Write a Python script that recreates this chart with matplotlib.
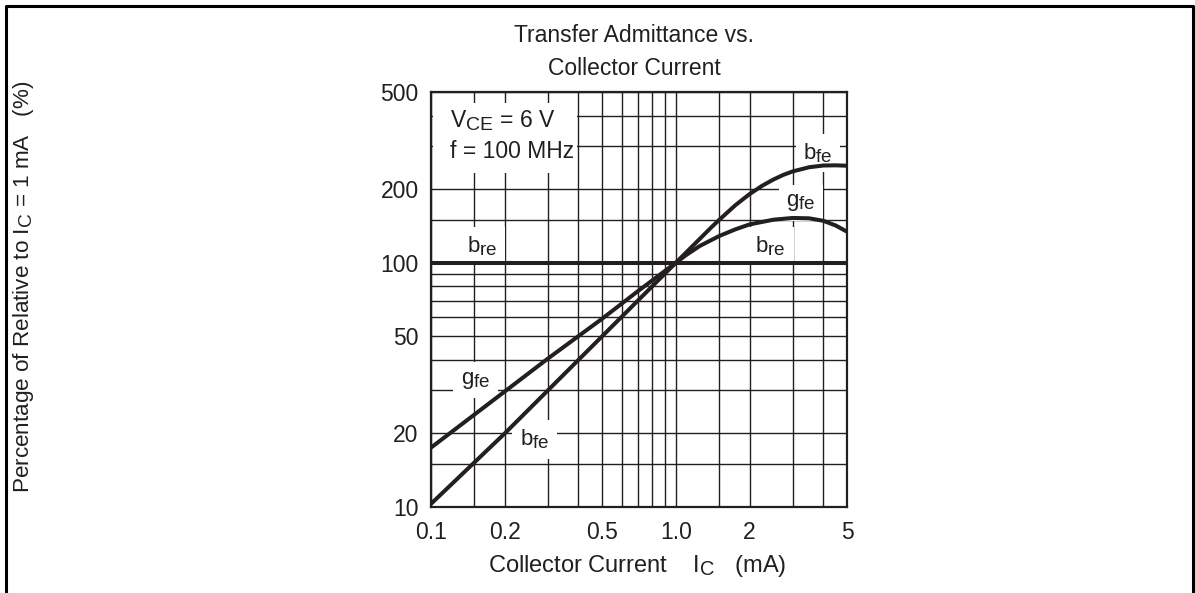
import matplotlib
matplotlib.use("Agg")
import matplotlib.pyplot as plt
import matplotlib._mathtext as mathtext_impl
from matplotlib.lines import Line2D
from matplotlib.patches import Rectangle

plt.rcParams["font.family"] = ["Liberation Sans", "DejaVu Sans"]
plt.rcParams["mathtext.fontset"] = "custom"
plt.rcParams["mathtext.rm"] = "Liberation Sans"
plt.rcParams["mathtext.it"] = "Liberation Sans"
plt.rcParams["mathtext.bf"] = "Liberation Sans:bold"
# datasheet style: subscripts only slightly smaller than the base letter
mathtext_impl.SHRINK_FACTOR = 0.85

INK = "#231f20"
W, H = 1195, 593

# collector current (mA) and relative admittance (%)
ic_bfe = [0.1, 0.2, 0.3, 0.5, 0.7, 1.0, 1.25, 1.4, 1.5, 1.75, 2.0, 2.25, 2.5, 2.75, 3.0, 3.5, 4.0, 4.5, 5.0]
bfe = [10.3, 20, 30, 50, 70, 100, 125, 140, 149.5, 172, 191, 206.5, 219, 229, 236.5, 246, 250, 250.5, 249.5]

ic_gfe = [0.1, 0.2, 0.3, 0.5, 0.7, 1.0, 1.1, 1.25, 1.5, 1.75, 2.0, 2.5, 3.0, 3.5, 4.0, 4.5, 5.0]
gfe = [17.5, 29.7, 40.5, 59, 76.5, 100, 107.4, 117, 128.5, 137, 143.5, 150, 152.5, 152, 148.5, 142, 134]

ic_bre = [0.1, 5.0]
bre = [100, 100]

x_major = [0.1, 0.2, 0.5, 1.0, 2, 5]
x_labels = ["0.1", "0.2", "0.5", "1.0", "2", "5"]
x_minor = [0.15, 0.3, 0.4, 0.6, 0.7, 0.8, 0.9, 1.5, 3, 4]
y_major = [10, 20, 50, 100, 200, 500]
y_minor = [15, 30, 40, 60, 70, 80, 90, 150, 300, 400]

fig = plt.figure(figsize=(W / 100, H / 100), dpi=100)
ax = fig.add_axes([431 / W, 86 / H, 416 / W, 415 / H])

ax.set_xscale("log")
ax.set_yscale("log")
ax.set_xlim(0.1, 5)
ax.set_ylim(10, 500)

ax.set_xticks(x_major)
ax.set_xticklabels(x_labels)
ax.set_xticks(x_minor, minor=True)
ax.set_xticklabels([], minor=True)
ax.set_yticks(y_major)
ax.set_yticklabels([str(v) for v in y_major])
ax.set_yticks(y_minor, minor=True)
ax.set_yticklabels([], minor=True)
ax.tick_params(which="both", length=0, labelsize=16.5, colors=INK)
ax.tick_params(axis="x", pad=10)
ax.tick_params(axis="y", pad=9)

ax.grid(which="both", color=INK, lw=1.0)
ax.set_axisbelow(True)
for sp in ax.spines.values():
    sp.set_linewidth(1.6)
    sp.set_color(INK)

curve = dict(color=INK, lw=2.9, solid_capstyle="butt", solid_joinstyle="round", zorder=3)
ax.plot(ic_bfe, bfe, **curve)
ax.plot(ic_gfe, gfe, **curve)
ax.plot(ic_bre, bre, **curve)

# white knock-outs sit over the grid but under the curves
box = dict(facecolor="white", edgecolor="none", pad=5.5)


def label(x, y, s):
    ax.text(x, y, s, ha="center", va="center", fontsize=16, color=INK,
            bbox=box, zorder=2.5)


label(3.8, 281, r"b$_\mathregular{fe}$")
label(3.24, 176, r"g$_\mathregular{fe}$")
label(2.44, 117, r"b$_\mathregular{re}$")
label(0.162, 117, r"b$_\mathregular{re}$")
label(0.152, 33, r"g$_\mathregular{fe}$")
label(0.265, 18.9, r"b$_\mathregular{fe}$")

# conditions block
ax.add_patch(Rectangle((0.005, 0.805), 0.346, 0.168, transform=ax.transAxes,
                       facecolor="white", edgecolor="none", zorder=2))
ax.text(450, H - 127, "V$_\\mathregular{CE}$ = 6 V", transform=None,
        ha="left", va="baseline", fontsize=16.5, color=INK, zorder=4)
ax.text(450, H - 158, "f = 100 MHz", transform=None,
        ha="left", va="baseline", fontsize=16.5, color=INK, zorder=4)

fig.text(634 / W, 1 - 41.5 / H, "Transfer Admittance vs.",
         ha="center", va="baseline", fontsize=16.5, color=INK)
fig.text(634 / W, 1 - 75 / H, "Collector Current",
         ha="center", va="baseline", fontsize=16.5, color=INK)
fig.text(637 / W, 1 - 572 / H,
         "Collector Current    I$_\\mathregular{C}$   (mA)",
         ha="center", va="baseline", fontsize=17, color=INK)
fig.text(24 / W, 1 - 287 / H,
         "Percentage of Relative to I$_\\mathregular{C}$ = 1 mA   (%)",
         ha="center", va="center", rotation=90, fontsize=16.2, color=INK)

# frame around the whole figure (open at the bottom)
fx0, fx1 = 5.5 / W, 1192.5 / W
fy1 = 1 - 5.5 / H
fig.add_artist(Line2D([fx0, fx0, fx1, fx1], [0, fy1, fy1, 0],
                      transform=fig.transFigure, color="black", lw=2.2))

fig.savefig("out.png", dpi=100, facecolor="white")
